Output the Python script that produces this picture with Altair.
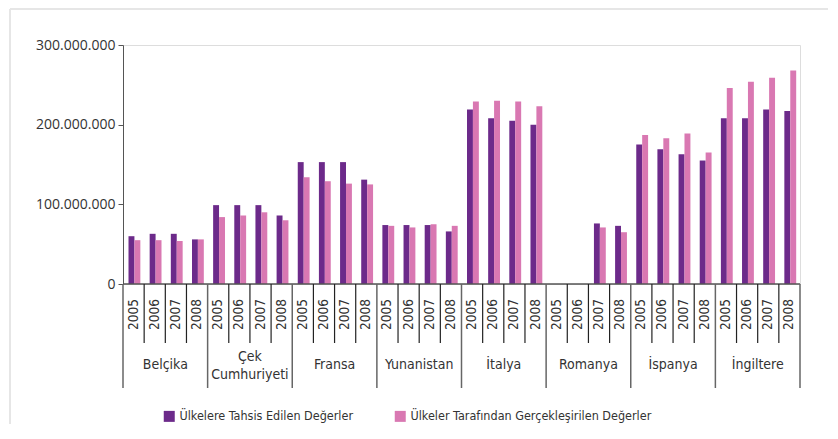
import altair as alt
import pandas as pd

countries = ["Belçika", "Çek Cumhuriyeti", "Fransa", "Yunanistan",
             "İtalya", "Romanya", "İspanya", "İngiltere"]
country_labels = ["Belçika", "Çek\nCumhuriyeti", "Fransa", "Yunanistan",
                  "İtalya", "Romanya", "İspanya", "İngiltere"]
years = ["2005", "2006", "2007", "2008"]
series_names = ["Ülkelere Tahsis Edilen Değerler",
                "Ülkeler Tarafından Gerçekleşirilen Değerler"]

# one value per country-year, in the order of countries x years
allocated = [
    60_000_000, 63_000_000, 63_000_000, 56_000_000,
    99_000_000, 99_000_000, 99_000_000, 86_000_000,
    153_000_000, 153_000_000, 153_000_000, 131_000_000,
    74_000_000, 74_000_000, 74_000_000, 66_000_000,
    219_000_000, 208_000_000, 205_000_000, 200_000_000,
    None, None, 76_000_000, 73_000_000,
    175_000_000, 169_000_000, 163_000_000, 155_000_000,
    208_000_000, 208_000_000, 219_000_000, 217_000_000,
]
realized = [
    55_000_000, 55_000_000, 54_000_000, 56_000_000,
    84_000_000, 86_000_000, 90_000_000, 80_000_000,
    134_000_000, 129_000_000, 126_000_000, 125_000_000,
    73_000_000, 71_000_000, 75_000_000, 73_000_000,
    229_000_000, 230_000_000, 229_000_000, 223_000_000,
    None, None, 71_000_000, 65_000_000,
    187_000_000, 183_000_000, 189_000_000, 165_000_000,
    246_000_000, 254_000_000, 259_000_000, 268_000_000,
]
colors = ["#6c2a8a", "#d978b2"]
y_ticks = [0, 100_000_000, 200_000_000, 300_000_000]

FONT = "DejaVu Sans Condensed, Liberation Sans Narrow, sans-serif"
TXT = "#333333"
LINE = "#555555"

rows = []
for ci, c in enumerate(countries):
    for yi, yr in enumerate(years):
        idx = ci * 4 + yi
        for si, vals in enumerate([allocated, realized]):
            v = vals[idx]
            if v is None:
                continue
            rows.append(dict(idx=idx, country=c, year=yr, series=series_names[si], si=si, value=v))
bars_df = pd.DataFrame(rows)

n = len(countries) * len(years)
year_df = pd.DataFrame({"idx": list(range(n)), "year": [years[i % 4] for i in range(n)]})
sep_df = pd.DataFrame({"pos": list(range(n + 1))})
sep_df["major"] = sep_df["pos"] % 4 == 0
country_df = pd.DataFrame({"center": [ci * 4 + 2 for ci in range(len(countries))],
                           "label": country_labels})
country_df["multi"] = country_df["label"].str.contains("\n")
dummy = pd.DataFrame({"a": [0], "b": [n]})

xscale = alt.Scale(domain=[0, n], nice=False, zero=False)

bars = alt.Chart(bars_df).transform_calculate(
    x0="datum.idx + 0.26 + datum.si * 0.28",
    x1="datum.idx + 0.54 + datum.si * 0.28",
).mark_bar().encode(
    x=alt.X("x0:Q", scale=xscale, axis=None),
    x2="x1:Q",
    y=alt.Y("value:Q",
            scale=alt.Scale(domain=[0, 300_000_000], nice=False),
            axis=alt.Axis(values=y_ticks, grid=False, title=None,
                          labelExpr="replace(format(datum.value, ','), regexp(',', 'g'), '.')",
                          tickSize=5, tickColor=LINE, domainColor=LINE,
                          labelFont="Open Sans", labelFontSize=14, labelColor=TXT,
                          labelPadding=3)),
    y2=alt.datum(0),
    color=alt.Color("series:N",
                    scale=alt.Scale(domain=series_names, range=colors),
                    legend=alt.Legend(orient="none", legendX=40, legendY=365,
                                      direction="horizontal", title=None,
                                      symbolType="square", symbolSize=121,
                                      symbolStrokeWidth=0, labelFont=FONT,
                                      labelFontSize=12.5, labelColor=TXT,
                                      columnPadding=40, labelOffset=4,
                                      labelLimit=500)),
)

baseline = alt.Chart(dummy).mark_rule(color=LINE, strokeWidth=1.5).encode(
    x=alt.X("a:Q", scale=xscale), x2="b:Q", y=alt.value(239))

minor_sep = alt.Chart(sep_df).transform_filter("!datum.major").mark_rule(
    color="#222222", strokeWidth=1.2).encode(
    x=alt.X("pos:Q", scale=xscale), y=alt.value(239), y2=alt.value(298))

major_sep = alt.Chart(sep_df).transform_filter("datum.major").mark_rule(
    color="#666666", strokeWidth=1.5).encode(
    x=alt.X("pos:Q", scale=xscale), y=alt.value(239), y2=alt.value(343))

year_text = alt.Chart(year_df).transform_calculate(c="datum.idx + 0.5").mark_text(
    angle=270, align="right", baseline="middle", font=FONT, fontSize=13.5, color=TXT
).encode(x=alt.X("c:Q", scale=xscale), y=alt.value(254), text="year:N")

country_text = alt.Chart(country_df).transform_filter("!datum.multi").mark_text(
    align="center", baseline="middle", font=FONT, fontSize=14, color=TXT
).encode(x=alt.X("center:Q", scale=xscale), y=alt.value(320), text="label:N")

country_text2 = alt.Chart(country_df).transform_filter("datum.multi").mark_text(
    align="center", baseline="middle", font=FONT, fontSize=14, color=TXT,
    lineBreak="\n", lineHeight=18
).encode(x=alt.X("center:Q", scale=xscale), y=alt.value(312), text="label:N")

frame_left = alt.Chart(dummy).mark_rule(color="#e6e6e6", strokeWidth=2).encode(
    x=alt.value(-113), y=alt.value(-36), y2=alt.value(390))
frame_top = alt.Chart(dummy).mark_rule(color="#e6e6e6", strokeWidth=2).encode(
    x=alt.value(-113), x2=alt.value(706), y=alt.value(-36))

chart = alt.layer(
    frame_left, frame_top, bars, baseline, minor_sep, major_sep, year_text,
    country_text, country_text2
).properties(
    width=677, height=239,
    autosize=alt.AutoSizeParams(type="none"),
    padding={"left": 115, "top": 37, "right": 28, "bottom": 140},
).configure_view(strokeWidth=0).configure(background="white")

chart.save("out.html", embed_options={"renderer": "svg", "actions": False})
